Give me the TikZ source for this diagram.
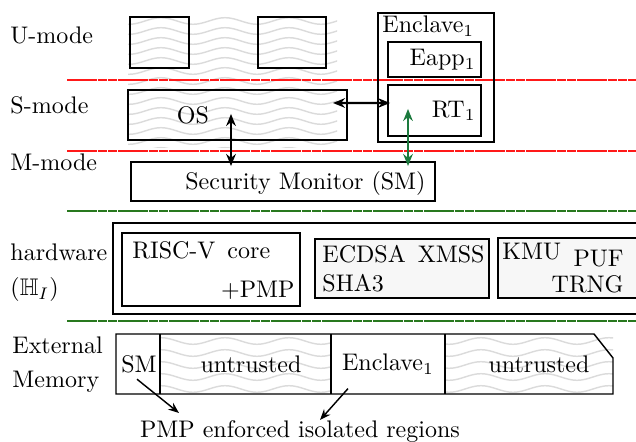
\documentclass[tikz,border=0pt]{standalone}
\usepackage{amssymb}
\usetikzlibrary{fit,arrows.meta,calc}
\definecolor{garrow}{RGB}{28,122,62}
\definecolor{gline}{RGB}{40,120,30}
% #1,#2,#3,#4 clip box; #5 first wave y; #6 spacing
\newcommand\mywaves[6]{%
  \begin{scope}
    \clip (#1,#2) rectangle (#3,#4);
    \foreach \k in {0,...,14}{
      \draw[wave] (81,{#5+\k*#6}) \foreach \i in {1,...,9}{ sin ++(16,-3.3) cos ++(16,3.3) sin ++(16,3.3) cos ++(16,-3.3)};
    }
  \end{scope}}
\begin{document}
\begin{tikzpicture}[x=0.4167pt,y=-0.4167pt,
  box/.style={draw,thick,inner sep=0pt},
  hbox/.style={draw,semithick,inner sep=0pt},
  lab/.style={inner sep=0pt,anchor=west},
  txt/.style={inner sep=0pt},
  wave/.style={gray!28,line width=0.6pt},
  redline/.style={red!90,line width=0.45pt,dash pattern=on 4pt off 0.25pt},
  grnline/.style={gline,line width=0.45pt,dash pattern=on 4pt off 0.25pt},
  dbl/.style={{Stealth[length=5pt,width=4pt]}-{Stealth[length=5pt,width=4pt]},line width=1pt},
  thin arrow/.style={-{Stealth[length=4.5pt,width=3.5pt]},semithick},
  ]
\useasboundingbox (0,0) rectangle (636,442);

% wave patterns
\mywaves{128}{17}{337}{148}{21}{10}
\mywaves{160}{334}{331}{394}{341}{12}
\mywaves{445}{334}{613}{394}{341}{12}

% separator lines
\draw[redline] (67,80) -- (636,80);
\draw[redline] (67,151) -- (636,151);
\draw[grnline] (67,211) -- (636,211);
\draw[grnline] (67,321) -- (636,321);

% left labels
\node[lab] (lu) at (10,35) {U-mode};
\node[lab] (ls) at (10,105) {S-mode};
\node[lab] (lm) at (10,162) {M-mode};
\node[lab] (lh) at (10,252) {hardware};
\node[lab] (lhi) at (10,290) {$(\mathbb{H}_I)$};
\node[lab] (le) at (12,345) {External};
\node[lab] (lmem) at (12,382) {Memory};

% U-mode and S-mode boxes
\node[box,fit={(130,17)(189,68)}] (u1) {};
\node[box,fit={(258,17)(326,68)}] (u2) {};
\node[box,fit={(128,90)(347,140)}] (os) {};
\node[txt] (ostxt) at (193,115) {OS};

% Enclave
\node[box,fit={(378,13)(494,142)}] (encl) {};
\node[txt,anchor=west] (encltxt) at (382,26) {Enclave$_1$};
\node[box,fit={(388,42)(481,77)}] (eapp) {};
\node[txt,anchor=east] (eapptxt) at (476,60) {Eapp$_1$};
\node[box,fit={(388,85)(481,136)}] (rt) {};
\node[txt,anchor=east] (rttxt) at (476,111) {RT$_1$};

% Security monitor
\node[box,fit={(131,162)(435,201)}] (sm) {};
\node[txt,anchor=east] (smtxt) at (426,184) {Security Monitor (SM)};

% arrows
\draw[dbl] ($(os.east)+(-15,-12)$) -- ($(rt.west)+(3,-7.5)$);
\draw[dbl] ($(os.south)+(-6.5,-27)$) -- ($(sm.north)+(-52,5)$);
\draw[dbl,garrow] ($(rt.south)+(-26.5,-28)$) -- ($(sm.north)+(125,5)$);

% hardware
\node[hbox,fit={(113,223)(642,314)}] (hw) {};
\node[box,fit={(122,233)(300,306)}] (risc) {};
\node[txt,anchor=west] (risctxt) at (132,250) {RISC-V\, core};
\node[txt,anchor=east] (pmptxt) at (295,290) {+PMP};
\node[hbox,fill=gray!6,fit={(315,239)(489,298)}] (crypto) {};
\node[txt,anchor=west] (ecdsa) at (322,254) {ECDSA\,\ XMSS};
\node[txt,anchor=west] (sha) at (322,283) {SHA3};
\node[hbox,fill=gray!6,fit={(498,238)(642,298)}] (kmu) {};
\node[txt,anchor=west] (kmutxt) at (502,252) {KMU};
\node[txt,anchor=east] (puf) at (624,259) {PUF};
\node[txt,anchor=east] (trng) at (624,284) {TRNG};

% external memory
\draw[semithick] (116,334) -- (594,334) -- (613,358) -- (613,394) -- (116,394) -- cycle;
\draw[semithick] (160,334) -- (160,394);
\draw[semithick] (331,334) -- (331,394);
\draw[semithick] (445,334) -- (445,394);
\node[txt] (msm) at (139,364) {SM};
\node[txt] (mun1) at (251,364) {untrusted};
\node[txt] (menc) at (388,364) {Enclave$_1$};
\node[txt] (mun2) at (539,364) {untrusted};
\node[txt] (caption) at (300,432) {PMP enforced isolated regions};
\coordinate (c1) at (179,413);
\coordinate (c2) at (320,420);
\draw[thin arrow] ($(msm.south)+(-2,6)$) -- (c1);
\draw[thin arrow] ($(menc.south)+(-40,14)$) -- (c2);
\end{tikzpicture}
\end{document}
